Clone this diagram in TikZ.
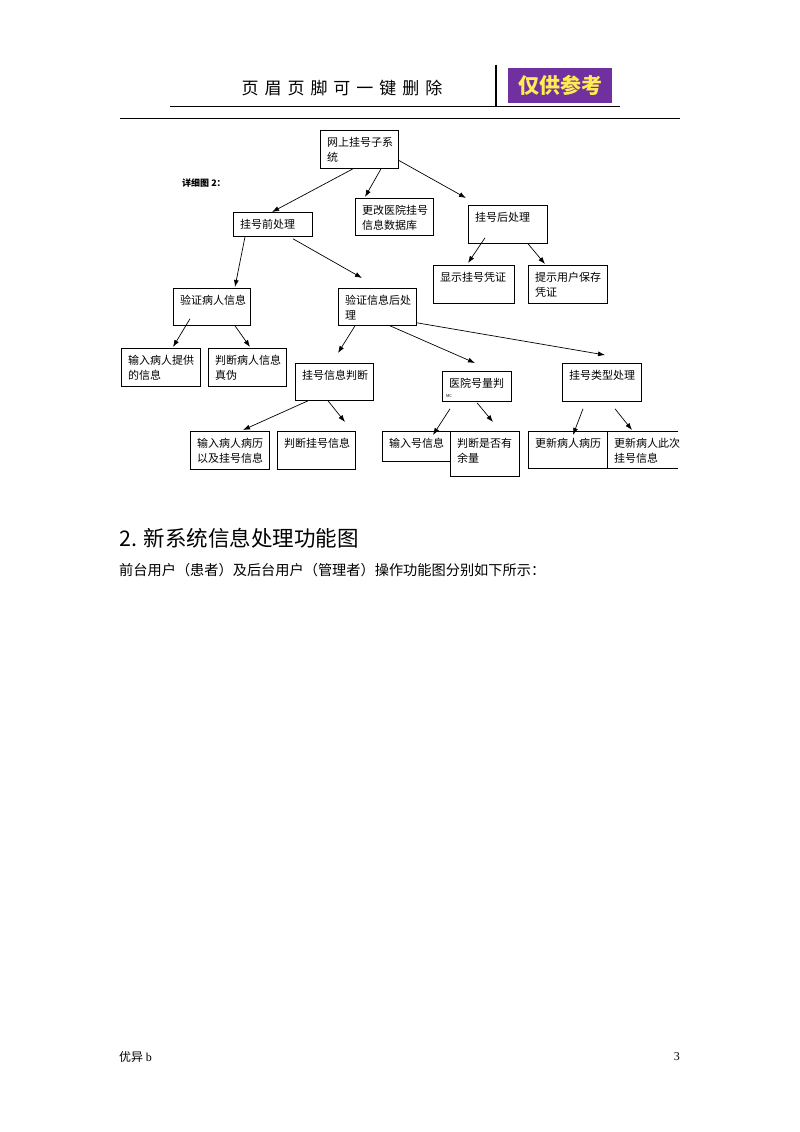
\documentclass[tikz,border=0pt]{standalone}
\usepackage{fontspec}
\setmainfont{Noto Sans CJK SC}
\newfontfamily\hdrfont[LetterSpace=35]{Noto Sans CJK SC}
\newfontfamily\ftrfont{Liberation Serif}
\usetikzlibrary{arrows.meta}

\definecolor{tagpurple}{RGB}{112,48,160}
\definecolor{tagyellow}{RGB}{255,236,80}

\tikzset{
  box/.style={draw, line width=0.8pt, anchor=north west, inner sep=0pt},
  txt/.style={anchor=north west, align=left, inner xsep=7pt, inner ysep=7pt,
    font=\fontsize{11}{15}\selectfont},
  arr/.style={-{Latex[length=7pt,width=5pt]}, line width=0.7pt}
}

\begin{document}
\begin{tikzpicture}[x=1pt,y=-1pt]
        \useasboundingbox (0,0) rectangle (800,1132);

        % header
        \node[font=\hdrfont\fontsize{17}{17}\selectfont] (hdr) at (342,88) {页眉页脚可一键删除};
        \node[fill=tagpurple, text=tagyellow, minimum width=104, minimum height=35, inner sep=0pt,
          font=\bfseries\fontsize{21}{21}\selectfont] (tag) at (560,85.5) {仅供参考};
        \draw[line width=1.6pt] (170,106.5) -- (620,106.5);
        \draw[line width=1.8pt] (496,65) -- (496,106);
        \draw[line width=0.8pt] (120,118) -- (680,118);

        \node[anchor=west, inner sep=0pt, font=\bfseries\fontsize{9}{9}\selectfont] (detail) at (182,183) {详细图 2：};

        % boxes
        \node[box, minimum width=78, minimum height=38] (top) at (320,130) {};
        \node[txt] (top-t) at (top.north west) {网上挂号子系\\统};
        \node[box, minimum width=79, minimum height=24] (qian) at (233,212) {};
        \node[txt] (qian-t) at (qian.north west) {挂号前处理};
        \node[box, minimum width=78, minimum height=37] (gengai) at (355,198) {};
        \node[txt] (gengai-t) at (gengai.north west) {更改医院挂号\\信息数据库};
        \node[box, minimum width=79, minimum height=38] (hou) at (468,205) {};
        \node[txt] (hou-t) at (hou.north west) {挂号后处理};
        \node[box, minimum width=81, minimum height=38] (xianshi) at (433,265) {};
        \node[txt] (xianshi-t) at (xianshi.north west) {显示挂号凭证};
        \node[box, minimum width=79, minimum height=38] (tishi) at (528,265) {};
        \node[txt] (tishi-t) at (tishi.north west) {提示用户保存\\凭证};

        \node[box, minimum width=77, minimum height=37] (yzbr) at (173,288) {};
        \node[txt] (yzbr-t) at (yzbr.north west) {验证病人信息};
        \node[box, minimum width=78, minimum height=37] (yzhcl) at (338,288) {};
        \node[txt] (yzhcl-t) at (yzhcl.north west) {验证信息后处\\理};
        \node[box, minimum width=79, minimum height=38] (srbr) at (121,348) {};
        \node[txt] (srbr-t) at (srbr.north west) {输入病人提供\\的信息};
        \node[box, minimum width=78, minimum height=38] (pdbr) at (208,348) {};
        \node[txt] (pdbr-t) at (pdbr.north west) {判断病人信息\\真伪};

        \node[box, minimum width=78, minimum height=37] (ghxx) at (295,363) {};
        \node[txt] (ghxx-t) at (ghxx.north west) {挂号信息判断};
        \node[box, minimum width=69, minimum height=30] (yyhl) at (442,371) {};
        \node[txt] (yyhl-t) at (yyhl.north west) {医院号量判};
        \node[anchor=west, inner sep=0pt, font=\fontsize{4}{4}\selectfont] (yyhl-s) at (446,396) {MC};
        \node[box, minimum width=79, minimum height=38] (ghlx) at (562,363) {};
        \node[txt] (ghlx-t) at (ghlx.north west) {挂号类型处理};

        \node[box, minimum width=79, minimum height=38] (srbl) at (190,431) {};
        \node[txt] (srbl-t) at (srbl.north west) {输入病人病历\\以及挂号信息};
        \node[box, minimum width=78, minimum height=38] (pdgh) at (277,431) {};
        \node[txt] (pdgh-t) at (pdgh.north west) {判断挂号信息};
        \node[box, minimum width=68, minimum height=30] (srh) at (382,431) {};
        \node[txt] (srh-t) at (srh.north west) {输入号信息};
        \node[box, minimum width=69, minimum height=45] (pdyl) at (450,431) {};
        \node[txt] (pdyl-t) at (pdyl.north west) {判断是否有\\余量};
        \node[box, minimum width=79, minimum height=37] (gxbl) at (528,431) {};
        \node[txt] (gxbl-t) at (gxbl.north west) {更新病人病历};
        \node[anchor=north west, inner sep=0pt, minimum width=71, minimum height=37] (gxcc) at (607,431) {};
        \draw[line width=0.8pt] (gxcc.north east) -- (gxcc.north west) -- (gxcc.south west) -- (gxcc.south east);
        \node[txt] (gxcc-t) at (gxcc.north west) {更新病人此次\\挂号信息};

        % arrows
        \draw[arr] ([xshift=33]top.south west) -- ([xshift=39]qian.north west);
        \draw[arr] ([xshift=61]top.south west) -- ([xshift=10,yshift=1]gengai.north west);
        \draw[arr] ([yshift=-11]top.east) -- ([xshift=-2,yshift=7]hou.north west);
        \draw[arr] ([xshift=12]qian.south west) -- ([xshift=62,yshift=1]yzbr.north west);
        \draw[arr] ([xshift=60,yshift=-2]qian.south west) -- ([xshift=24,yshift=10]yzhcl.north west);
        \draw[arr] ([xshift=17,yshift=6]hou.south west) -- ([xshift=35,yshift=2]xianshi.north west);
        \draw[arr] ([xshift=60]hou.south west) -- ([xshift=17,yshift=1]tishi.north west);
        \draw[arr] ([xshift=17,yshift=7]yzbr.south west) -- ([xshift=52,yshift=1]srbr.north west);
        \draw[arr] ([xshift=62]yzbr.south west) -- ([xshift=42,yshift=1]pdbr.north west);
        \draw[arr] ([xshift=17]yzhcl.south west) -- ([xshift=43,yshift=10]ghxx.north west);
        \draw[arr] ([xshift=52]yzhcl.south west) -- ([xshift=33,yshift=8]yyhl.north west);
        \draw[arr] ([yshift=3]yzhcl.south east) -- ([xshift=43,yshift=8]ghlx.north west);
        \draw[arr] ([xshift=13]ghxx.south west) -- ([xshift=53,yshift=1]srbl.north west);
        \draw[arr] ([xshift=33]ghxx.south west) -- ([xshift=68,yshift=9]pdgh.north west);
        \draw[arr] ([xshift=8,yshift=-7]yyhl.south west) -- ([xshift=51,yshift=-4]srh.north west);
        \draw[arr] ([xshift=35,yshift=-1]yyhl.south west) -- ([xshift=43,yshift=9]pdyl.north west);
        \draw[arr] ([xshift=21,yshift=-7]ghlx.south west) -- ([xshift=45,yshift=-4]gxbl.north west);
        \draw[arr] ([xshift=53,yshift=-7]ghlx.south west) -- ([xshift=25,yshift=1]gxcc.north west);

        % text below
        \node[anchor=west, inner sep=0pt, font=\fontsize{21.5}{21.5}\selectfont] (sec) at (119,538) {2. 新系统信息处理功能图};
        \node[anchor=west, inner sep=0pt, font=\fontsize{14.2}{14.2}\selectfont] (intro) at (119,570) {前台用户（患者）及后台用户（管理者）操作功能图分别如下所示：};

        % footer
        \node[anchor=west, inner sep=0pt, font=\fontsize{12}{12}\selectfont] (ftr) at (119,1057) {优异 {\ftrfont b}};
        \node[anchor=east, inner sep=0pt, font=\ftrfont\fontsize{12}{12}\selectfont] (page) at (680,1057) {3};
        \end{tikzpicture}
\end{document}
